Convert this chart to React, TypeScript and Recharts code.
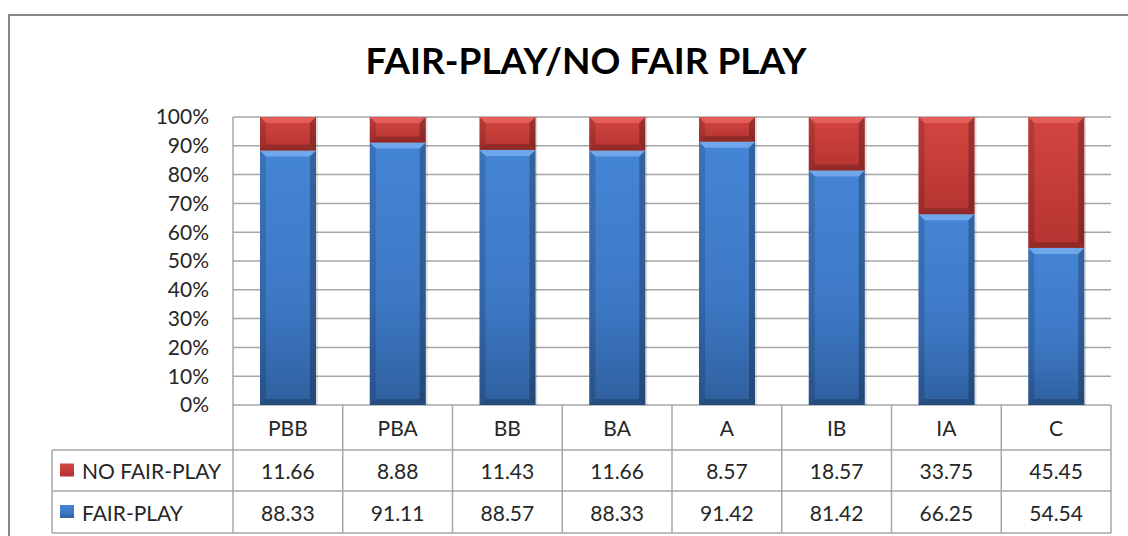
import React from "react";
import { BarChart, Bar, XAxis, YAxis, CartesianGrid } from "recharts";

const categories = ["PBB", "PBA", "BB", "BA", "A", "IB", "IA", "C"];
const noFairPlay = [11.66, 8.88, 11.43, 11.66, 8.57, 18.57, 33.75, 45.45];
const fairPlay = [88.33, 91.11, 88.57, 88.33, 91.42, 81.42, 66.25, 54.54];
const yTicks = [0, 0.1, 0.2, 0.3, 0.4, 0.5, 0.6, 0.7, 0.8, 0.9, 1];
const seriesNames = { no: "NO FAIR-PLAY", fair: "FAIR-PLAY" };

const data = categories.map((c, i) => ({ cat: c, fair: fairPlay[i], no: noFairPlay[i] }));

const FONT = "Lato, 'Open Sans', sans-serif";
const GRID = "#a6a6a6";
const TEXT = "#262626";
const COL_W = 878 / 8;

const BevelBar = (props: any) => {
  const { x, y, width, height, kind } = props;
  if (!height || height <= 0) return null;
  const b = Math.min(6, height / 2);
  const isBlue = kind === "fair";
  const body = isBlue ? "url(#gBlue)" : "url(#gRed)";
  const top = isBlue ? "#6fa8ea" : "#e35e5b";
  return (
    <g>
      <rect x={x + 2} y={y} width={width} height={height} fill="rgba(0,0,0,0.12)" />
      <rect x={x} y={y} width={width} height={height} fill={body} />
      <polygon
        points={`${x},${y} ${x + width},${y} ${x + width - b},${y + b} ${x + b},${y + b}`}
        fill={top}
      />
      <polygon
        points={`${x},${y} ${x + b},${y + b} ${x + b},${y + height - b} ${x},${y + height}`}
        fill="rgba(0,0,0,0.14)"
      />
      <polygon
        points={`${x + width},${y} ${x + width - b},${y + b} ${x + width - b},${y + height - b} ${x + width},${y + height}`}
        fill="rgba(0,0,0,0.25)"
      />
      <polygon
        points={`${x},${y + height} ${x + b},${y + height - b} ${x + width - b},${y + height - b} ${x + width},${y + height}`}
        fill="rgba(0,0,0,0.2)"
      />
    </g>
  );
};

const TableTick = (props: any) => {
  const { x, y, payload, index } = props;
  const i = payload?.index ?? index;
  const left = x - COL_W / 2;
  const r1 = y + 45;
  const r2 = y + 86;
  const r3 = y + 128;
  const tStyle = { fontFamily: FONT, fontSize: 21, fill: TEXT } as any;
  return (
    <g>
      {i === 0 && (
        <g>
          <line x1={52} y1={r1} x2={1111} y2={r1} stroke={GRID} strokeWidth={1.5} />
          <line x1={52} y1={r2} x2={1111} y2={r2} stroke={GRID} strokeWidth={1.5} />
          <line x1={52} y1={r3} x2={1111} y2={r3} stroke={GRID} strokeWidth={1.5} />
          <line x1={52} y1={r1} x2={52} y2={r3} stroke={GRID} strokeWidth={1.5} />
          <rect x={60} y={(r1 + r2) / 2 - 7} width={14} height={13} fill="url(#gRed)" />
          <rect x={60} y={(r2 + r3) / 2 - 7} width={14} height={13} fill="url(#gBlue)" />
          <text x={82} y={(r1 + r2) / 2} dominantBaseline="central" style={tStyle}>
            {seriesNames.no}
          </text>
          <text x={82} y={(r2 + r3) / 2} dominantBaseline="central" style={tStyle}>
            {seriesNames.fair}
          </text>
        </g>
      )}
      <line x1={left} y1={y} x2={left} y2={r3} stroke={GRID} strokeWidth={1.5} />
      {i === categories.length - 1 && (
        <line x1={left + COL_W} y1={y} x2={left + COL_W} y2={r3} stroke={GRID} strokeWidth={1.5} />
      )}
      <text x={x} y={(y + r1) / 2} textAnchor="middle" dominantBaseline="central" style={tStyle}>
        {categories[i]}
      </text>
      <text x={x} y={(r1 + r2) / 2} textAnchor="middle" dominantBaseline="central" style={tStyle}>
        {noFairPlay[i].toFixed(2)}
      </text>
      <text x={x} y={(r2 + r3) / 2} textAnchor="middle" dominantBaseline="central" style={tStyle}>
        {fairPlay[i].toFixed(2)}
      </text>
    </g>
  );
};

export default function App() {
  return (
    <div style={{ position: "absolute", left: 0, top: 0, width: 1128, height: 536, background: "#fff", overflow: "hidden" }}>
      <div
        style={{
          position: "absolute",
          left: 8,
          top: 14,
          width: 1140,
          height: 560,
          border: "2px solid #878787",
          boxSizing: "border-box",
        }}
      />
      <div
        style={{
          position: "absolute",
          left: 0,
          width: 1172,
          top: 38,
          textAlign: "center",
          fontFamily: FONT,
          fontWeight: 700,
          fontSize: 37,
          color: "#000",
          lineHeight: "44px",
        }}
      >
        FAIR-PLAY/NO FAIR PLAY
      </div>
      <div style={{ position: "absolute", left: 0, top: 0 }}>
        <BarChart
          width={1128}
          height={536}
          data={data}
          stackOffset="expand"
          barSize={56}
          margin={{ top: 117, right: 17, bottom: 0, left: 113 }}
        >
          <defs>
            <linearGradient id="gBlue" x1="0" y1="0" x2="0" y2="1">
              <stop offset="0" stopColor="#4585d6" />
              <stop offset="0.6" stopColor="#3d78c4" />
              <stop offset="1" stopColor="#2f609f" />
            </linearGradient>
            <linearGradient id="gRed" x1="0" y1="0" x2="0" y2="1">
              <stop offset="0" stopColor="#d44541" />
              <stop offset="1" stopColor="#b53431" />
            </linearGradient>
          </defs>
          <CartesianGrid vertical={false} stroke={GRID} strokeWidth={1.5} />
          <XAxis
            dataKey="cat"
            height={131}
            axisLine={false}
            tickLine={false}
            tickSize={0}
            tickMargin={0}
            interval={0}
            tick={<TableTick />}
          />
          <YAxis
            type="number"
            domain={[0, 1]}
            ticks={yTicks}
            interval={0}
            width={120}
            axisLine={{ stroke: GRID, strokeWidth: 1.5 }}
            tickLine={false}
            tickSize={0}
            tickMargin={24}
            tickFormatter={(v: number) => `${Math.round(v * 100)}%`}
            tick={{ fontFamily: FONT, fontSize: 21, fill: TEXT }}
          />
          <Bar dataKey="fair" stackId="s" isAnimationActive={false} shape={<BevelBar kind="fair" />} />
          <Bar dataKey="no" stackId="s" isAnimationActive={false} shape={<BevelBar kind="no" />} />
        </BarChart>
      </div>
    </div>
  );
}
